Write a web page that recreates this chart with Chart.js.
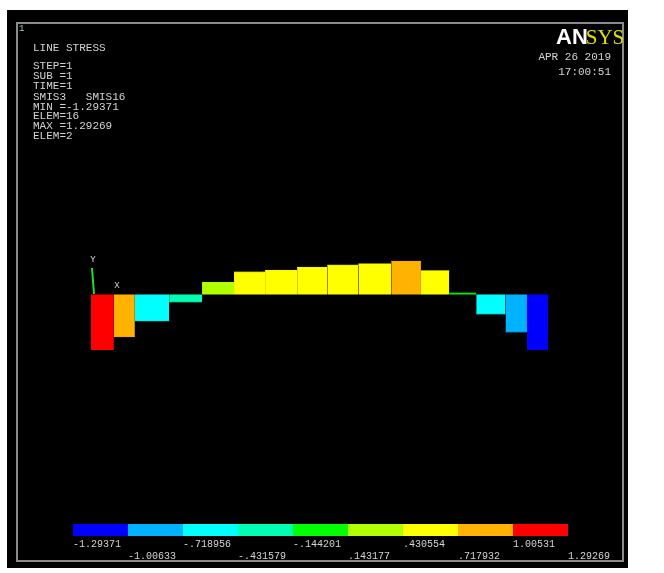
<!DOCTYPE html>
<html>
<head>
<meta charset="utf-8">
<title>LINE STRESS</title>
<script src="https://cdn.jsdelivr.net/npm/chart.js@4"></script>
<style>
  html, body { margin: 0; padding: 0; background: #ffffff; }
  #wrap { width: 664px; height: 573px; }
</style>
</head>
<body>
<div id="wrap"><canvas id="lineStress" width="664" height="573"></canvas></div>
<script>
// Beam node positions (along the beam, 0..10) and element results
const nodeX = [0, 0.50, 0.96, 1.71, 2.43, 3.13, 3.81, 4.51, 5.17, 5.85, 6.57, 7.22, 7.84, 8.43, 9.07, 9.54, 10.0];
const elemStress = [1.29269, 0.98, -0.61, -0.17, 0.28, 0.52, 0.56, 0.63, 0.68, 0.71, 0.77, 0.55, 0.03, -0.45, -0.87, -1.29371];
// side of the beam each element's result is drawn on (local axis direction)
const elemSide = [-1, -1, 1, 1, 1, 1, 1, 1, 1, 1, 1, 1, 1, 1, 1, 1];

// Contour legend
const contourLevels = [-1.29371, -1.00633, -0.718956, -0.431579, -0.144201, 0.143177, 0.430554, 0.717932, 1.00531, 1.29269];
const contourLabels = ['-1.29371', '-1.00633', '-.718956', '-.431579', '-.144201', '.143177', '.430554', '.717932', '1.00531', '1.29269'];
const contourColors = ['#0000ff', '#00b2ff', '#00ffff', '#00ffb2', '#00ff00', '#b2ff00', '#ffff00', '#ffb200', '#ff0000'];

// Header text block
const infoLines = ['LINE STRESS', '', 'STEP=1', 'SUB =1', 'TIME=1', 'SMIS3   SMIS16', 'MIN =-1.29371', 'ELEM=16', 'MAX =1.29269', 'ELEM=2'];
const dateLines = ['APR 26 2019', '17:00:51'];

function contourColor(v) {
    for (let i = 0; i < contourColors.length; i++) {
        if (v <= contourLevels[i + 1]) return contourColors[i];
    }
    return contourColors[contourColors.length - 1];
}

const MONO = '"Liberation Mono", "DejaVu Sans Mono", monospace';
const TEXT = '#d4d4d4';

// Black graphics window, frame, text and contour legend
const ansysFrame = {
    id: 'ansysFrame',
    beforeDraw(chart) {
        const ctx = chart.ctx;
        ctx.save();
        ctx.fillStyle = '#ffffff';
        ctx.fillRect(0, 0, chart.width, chart.height);
        ctx.fillStyle = '#000000';
        ctx.fillRect(7, 10, 621, 558);
        ctx.strokeStyle = '#8a8a8a';
        ctx.lineWidth = 2;
        ctx.strokeRect(17, 23, 606, 538);
        ctx.restore();
    },
    afterDraw(chart) {
        const ctx = chart.ctx;
        ctx.save();
        ctx.textBaseline = 'middle';

        // window number
        ctx.fillStyle = '#9fc8a0';
        ctx.font = '9px ' + MONO;
        ctx.fillText('1', 19, 29);

        // info block
        ctx.fillStyle = TEXT;
        ctx.font = '11px ' + MONO;
        const rows = [48, 0, 66, 76, 86, 97, 107, 116, 126, 136];
        infoLines.forEach((t, i) => {
            if (t) ctx.fillText(t, 33, rows[i]);
        });

        // logo
        ctx.textBaseline = 'alphabetic';
        ctx.font = 'bold 22px "Liberation Sans", Arial, sans-serif';
        ctx.fillStyle = '#ffffff';
        ctx.fillText('AN', 556, 44);
        const w = ctx.measureText('AN').width;
        ctx.font = '21px "Liberation Serif", serif';
        ctx.fillStyle = '#e0e000';
        ctx.fillText('SYS', 556 + w - 2, 44);

        // date / time
        ctx.textBaseline = 'middle';
        ctx.font = '11px ' + MONO;
        ctx.fillStyle = TEXT;
        ctx.textAlign = 'right';
        dateLines.forEach((t, i) => ctx.fillText(t, 611, 57 + i * 15));

        // coordinate triad
        ctx.textAlign = 'center';
        ctx.strokeStyle = '#22dd22';
        ctx.lineWidth = 2;
        ctx.beginPath();
        ctx.moveTo(92, 268);
        ctx.lineTo(94, 294);
        ctx.stroke();
        ctx.fillStyle = TEXT;
        ctx.font = '9px ' + MONO;
        ctx.fillText('Y', 93, 260);
        ctx.fillText('X', 117, 286);

        // contour legend bar
        const bx = 73, by = 524, segW = 55, bh = 12;
        contourColors.forEach((c, i) => {
            ctx.fillStyle = c;
            ctx.fillRect(bx + i * segW, by, segW, bh);
        });
        ctx.font = '10px ' + MONO;
        ctx.fillStyle = TEXT;
        ctx.textAlign = 'left';
        contourLabels.forEach((t, i) => {
            ctx.fillText(t, bx + i * segW, i % 2 === 0 ? 544 : 556);
        });
        ctx.restore();
    }
};

function buildDatasets() {
    return elemStress.map((s, i) => {
        const v = s * elemSide[i];
        const col = contourColor(s);
        return {
            label: 'E' + (i + 1),
            data: [{ x: nodeX[i], y: v }, { x: nodeX[i + 1], y: v }],
            borderColor: col,
            backgroundColor: col,
            borderWidth: 1,
            fill: 'origin',
            pointRadius: 0,
            tension: 0
        };
    });
}

new Chart(document.getElementById('lineStress').getContext('2d'), {
    type: 'line',
    plugins: [ansysFrame],
    data: { datasets: buildDatasets() },
    options: {
        responsive: false,
        devicePixelRatio: 1,
        animation: false,
        layout: { padding: { left: 91, right: 116, top: 239, bottom: 223 } },
        plugins: {
            legend: { display: false },
            tooltip: { enabled: false }
        },
        scales: {
            x: { type: 'linear', display: false, min: 0, max: 10 },
            y: { type: 'linear', display: false, min: -1.29269, max: 1.29269 }
        }
    }
});
</script>
</body>
</html>
